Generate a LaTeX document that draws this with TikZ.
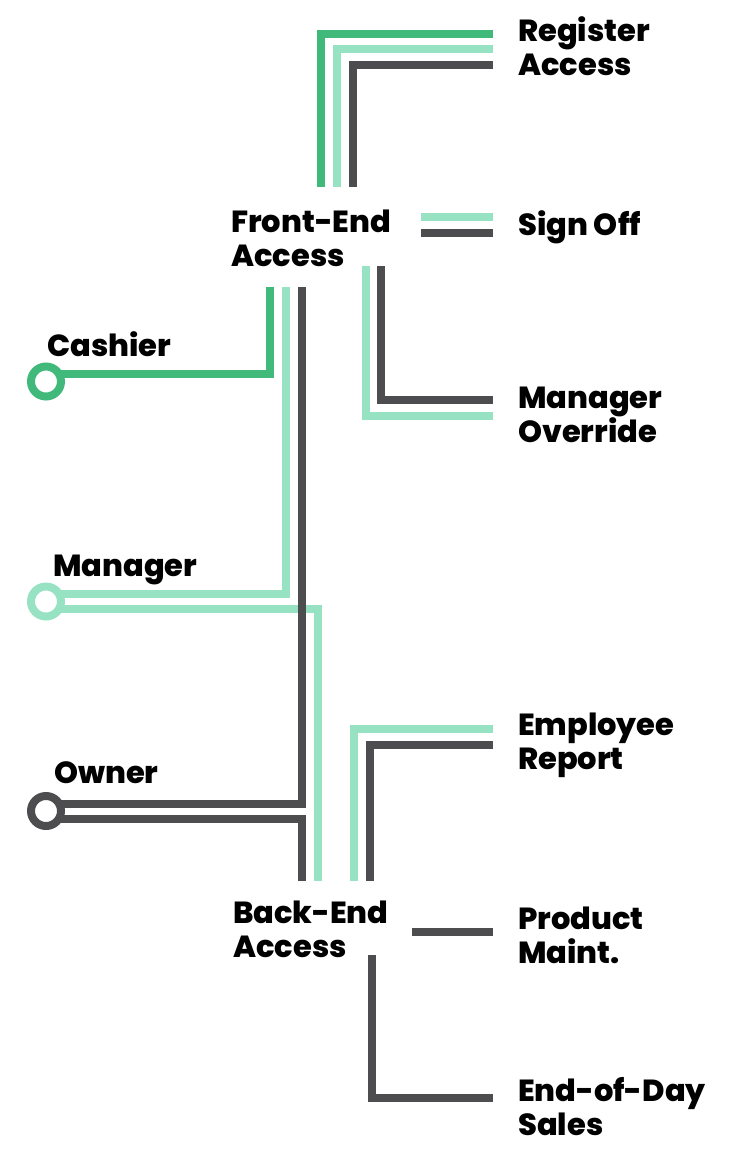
\documentclass[tikz,border=0pt]{standalone}
\usepackage{fontspec}
\setmainfont{Poppins}[BoldFont={Poppins ExtraBold}]
\definecolor{grn}{HTML}{41B97A}
\definecolor{mint}{HTML}{96E2C3}
\definecolor{slate}{HTML}{4D4D4F}

\begin{document}
\begin{tikzpicture}[x=1pt,y=-1pt,
  lbl/.style={anchor=base west,inner sep=0,align=left,font=\fontsize{30.5}{33.5}\selectfont\bfseries},
  rail/.style={line width=8pt},
  stop/.style={circle,draw=#1,line width=8pt,fill=white,minimum size=30pt,inner sep=0}]
\useasboundingbox (0,0) rectangle (730,1154);
\node[lbl] (front) at (231,266) {Front-End\\Access};
\node[lbl] (back) at (233,957) {Back-End\\Access};
\node[lbl] (reg) at (518,75) {Register\\Access};
\node[lbl] (sign) at (518,235) {Sign Off};
\node[lbl] (over) at (518,442) {Manager\\Override};
\node[lbl] (emp) at (518,769) {Employee\\Report};
\node[lbl] (prod) at (518,963) {Product\\Maint.};
\node[lbl] (eod) at (518,1135) {End-of-Day\\Sales};
\node[lbl] (cash) at (47,356) {Cashier};
\node[lbl] (mgr) at (53,576) {Manager};
\node[lbl] (own) at (54,783) {Owner};
\coordinate (cashier) at (46,381.5);
\coordinate (manager) at (46,601.5);
\coordinate (owner) at (46,811);
\coordinate (fe1) at (321,187); \coordinate (fe2) at (337,187); \coordinate (fe3) at (353,187);
\coordinate (ra1) at (493,34); \coordinate (ra2) at (493,49); \coordinate (ra3) at (493,65);
\coordinate (so1) at (421,217); \coordinate (so2) at (493,217);
\coordinate (so3) at (421,233); \coordinate (so4) at (493,233);
\coordinate (fo1) at (366,266); \coordinate (fo2) at (381,266);
\coordinate (mo1) at (493,416); \coordinate (mo2) at (493,400);
\coordinate (fd1) at (270,287); \coordinate (fd2) at (286,287); \coordinate (fd3) at (302,287);
\coordinate (bu1) at (302,881); \coordinate (bu2) at (318,881);
\coordinate (bu3) at (354,881); \coordinate (bu4) at (370,881);
\coordinate (er1) at (493,729); \coordinate (er2) at (493,745);
\coordinate (pm1) at (412,932); \coordinate (pm2) at (493,932);
\coordinate (bd) at (372,955); \coordinate (es) at (493,1098);
\draw[rail,grn]
  (fe1) |- (ra1)
  ([yshift=7.5pt]cashier) -| (fd1);
\draw[rail,mint]
  (fe2) |- (ra2)
  (so1) -- (so2)
  (fo1) |- (mo1)
  ([yshift=7.5pt]manager) -| (fd2)
  ([yshift=-7.5pt]manager) -| (bu2)
  (bu3) |- (er1);
\draw[rail,slate]
  (fe3) |- (ra3)
  (so3) -- (so4)
  (fo2) |- (mo2)
  (fd3) |- ([yshift=7.5pt]owner)
  ([yshift=-7.5pt]owner) -| (bu1)
  (bu4) |- (er2)
  (pm1) -- (pm2)
  (bd) |- (es);
\node[stop=grn] (cashdot) at (cashier) {};
\node[stop=mint] (mgrdot) at (manager) {};
\node[stop=slate] (owndot) at (owner) {};
\end{tikzpicture}
\end{document}
